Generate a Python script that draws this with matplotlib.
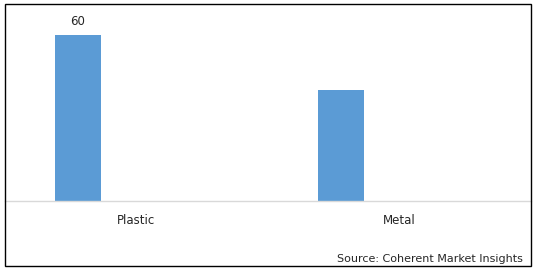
import numpy as np
import matplotlib.pyplot as plt
from matplotlib.patches import Rectangle

categories = ["Plastic", "Metal"]
values = [60, 40]
shown_labels = ["60", ""]

W, H = 538, 272
fig = plt.figure(figsize=(W / 100, H / 100), dpi=100)

# outer border
fig.patches.append(Rectangle((5 / W, 1 - 266 / H), 526 / W, 262 / H,
                             transform=fig.transFigure, fill=False,
                             edgecolor="black", linewidth=1.0))

ax = fig.add_axes([5 / W, 1 - 201 / H, 526 / W, (201 - 12) / H])
x = np.arange(len(categories))
offset = -58.5 / 263
width = 46 / 263
bars = ax.bar(x + offset, values, width=width, color="#5B9BD5")
ax.set_xlim(-0.5, len(categories) - 0.5)
ax.set_ylim(0, 60 * 189 / 166)

for b, lab in zip(bars, shown_labels):
    if lab:
        ax.annotate(lab, (b.get_x() + b.get_width() / 2, b.get_height()),
                    xytext=(0, 5), textcoords="offset points",
                    ha="center", va="bottom", fontsize=8.5, color="#262626")

ax.set_xticks(x)
ax.set_xticklabels(categories, fontsize=8.5, color="#262626")
ax.tick_params(axis="x", length=0, pad=9)
ax.set_yticks([])
for s in ["top", "right", "left"]:
    ax.spines[s].set_visible(False)
ax.spines["bottom"].set_color("#d9d9d9")
ax.spines["bottom"].set_linewidth(1.0)
ax.patch.set_visible(False)

fig.text(523 / W, 1 - 259 / H, "Source: Coherent Market Insights",
         ha="right", va="center", fontsize=8, color="#262626")

fig.savefig("out.png", dpi=100)
